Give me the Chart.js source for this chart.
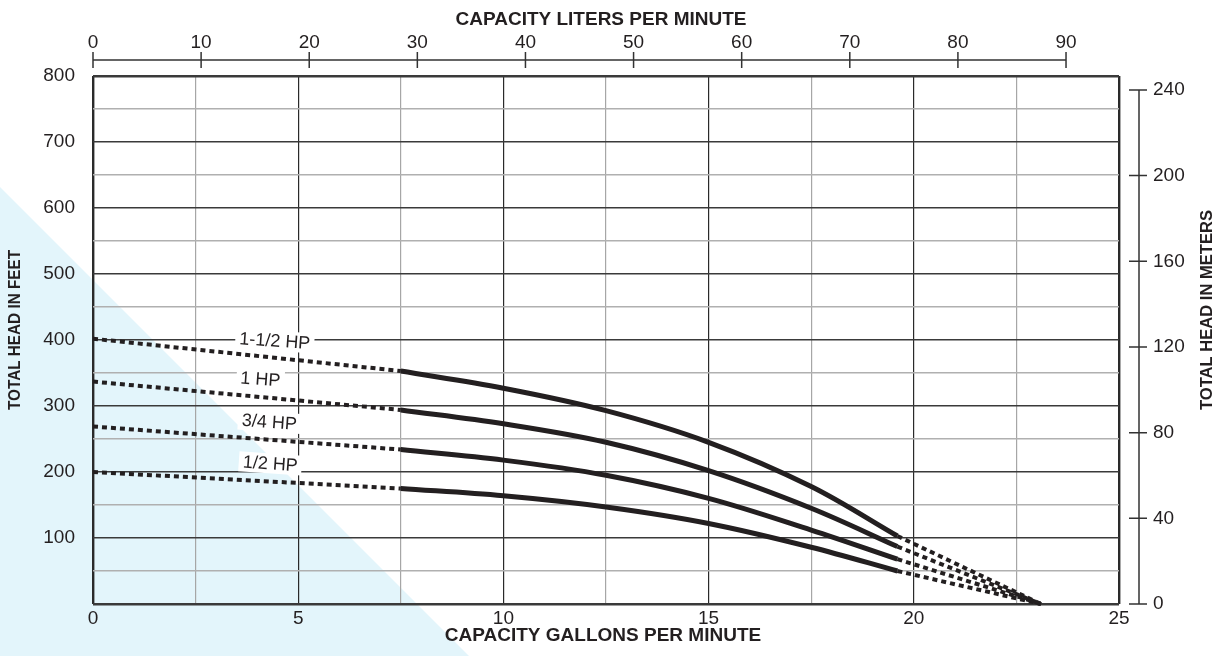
<!DOCTYPE html>
<html>
<head>
<meta charset="utf-8">
<script src="https://cdn.jsdelivr.net/npm/chart.js@4/dist/chart.umd.min.js"></script>
<style>
  body { margin: 0; background: #fff; }
  canvas { display: block; }
</style>
</head>
<body>
<canvas id="pump" width="1225" height="656"></canvas>
<script>
// valeurs
const gpmTicks = [0, 5, 10, 15, 20, 25];
const feetTicks = [100, 200, 300, 400, 500, 600, 700, 800];
const literTicks = [0, 10, 20, 30, 40, 50, 60, 70, 80, 90];
const meterTicks = [0, 40, 80, 120, 160, 200, 240];

const motors = ['1-1/2 HP', '1 HP', '3/4 HP', '1/2 HP'];
const gpmSolid = [7.5, 10, 12.5, 15, 17.5, 19.6];
const headShutoff = [402, 337, 269, 200];
const head150 = [353, 327, 293, 245, 178, 103];
const head100 = [294, 273, 245, 202, 145, 87];
const head075 = [234, 218, 195, 160, 112, 68];
const head050 = [175, 164, 147, 122, 86, 50];
const runOutGpm = 23.1;

const heads = [head150, head100, head075, head050];
const ink = '#231f20';
const FONT = '"Liberation Sans", Arial, Helvetica, sans-serif';

const datasets = [];
heads.forEach((h, i) => {
    datasets.push({
        label: motors[i],
        data: gpmSolid.map((x, j) => ({ x: x, y: h[j] })),
        borderColor: ink,
        borderWidth: 5,
        tension: 0.35,
        pointRadius: 0,
        clip: false
    });
    datasets.push({
        label: motors[i] + ' (extrapolé)',
        data: [
            { x: 0, y: headShutoff[i] },
            { x: gpmSolid[0], y: h[0] },
            { x: 13, y: null },
            { x: gpmSolid[gpmSolid.length - 1], y: h[h.length - 1] },
            { x: runOutGpm, y: 0 }
        ],
        borderColor: ink,
        borderWidth: 4,
        borderDash: [5, 4],
        tension: 0,
        spanGaps: false,
        pointRadius: 0,
        clip: false
    });
});

// fond bleu, axes secondaires, titres, étiquettes des moteurs
const decor = {
    id: 'decor',
    beforeDraw(chart) {
        const c = chart.ctx;
        c.save();
        c.fillStyle = '#e3f5fb';
        c.beginPath();
        c.moveTo(0, 187);
        c.lineTo(469, 656);
        c.lineTo(0, 656);
        c.closePath();
        c.fill();
        c.restore();
    },
    beforeDatasetsDraw(chart) {
        const c = chart.ctx;
        const sx = chart.scales.x, sy = chart.scales.y;
        const spots = [[4.43, 399], [4.08, 341], [4.3, 276], [4.32, 213]];
        c.save();
        c.font = '18px ' + FONT;
        c.textAlign = 'center';
        c.textBaseline = 'middle';
        motors.forEach((m, i) => {
            const px = sx.getPixelForValue(spots[i][0]);
            const py = sy.getPixelForValue(spots[i][1]);
            const w = c.measureText(m).width + 8;
            c.save();
            c.translate(px, py);
            c.rotate(4 * Math.PI / 180);
            c.fillStyle = '#fff';
            c.fillRect(-w / 2, -10, w, 20);
            c.fillStyle = ink;
            c.fillText(m, 0, 1);
            c.restore();
        });
        c.restore();
    },
    afterDraw(chart) {
        const c = chart.ctx;
        const xl = chart.scales.xL, ym = chart.scales.yM;
        c.save();
        c.strokeStyle = '#333';
        c.lineWidth = 1.5;
        // axe litres en haut
        const x0 = xl.getPixelForValue(0), x90 = xl.getPixelForValue(90);
        c.beginPath();
        c.moveTo(x0, 60); c.lineTo(x90, 60);
        literTicks.forEach(v => {
            const p = xl.getPixelForValue(v);
            c.moveTo(p, 52); c.lineTo(p, 68);
        });
        c.stroke();
        // axe mètres à droite
        const ax = 1139;
        c.beginPath();
        c.moveTo(ax, ym.getPixelForValue(0)); c.lineTo(ax, ym.getPixelForValue(240));
        meterTicks.forEach(v => {
            const p = ym.getPixelForValue(v);
            c.moveTo(ax - 10, p); c.lineTo(ax + 8, p);
        });
        c.stroke();

        c.fillStyle = ink;
        c.font = 'bold 19px ' + FONT;
        c.textAlign = 'center';
        c.textBaseline = 'middle';
        c.fillText('CAPACITY LITERS PER MINUTE', 601, 20);
        c.fillText('CAPACITY GALLONS PER MINUTE', 603, 636);

        // titres verticaux, ajustés à la longueur mesurée
        c.font = 'bold 17px ' + FONT;
        c.textAlign = 'left';
        [[15, 'TOTAL HEAD IN FEET', 160], [1207, 'TOTAL HEAD IN METERS', 200]].forEach(t => {
            const k = t[2] / c.measureText(t[1]).width;
            c.save();
            c.translate(t[0], 410);
            c.rotate(-Math.PI / 2);
            c.scale(k, 1);
            c.fillText(t[1], 0, 0);
            c.restore();
        });
        c.restore();
    }
};

const edge = (v, a, b) => v === a || v === b;

new Chart(document.getElementById('pump'), {
    type: 'line',
    data: { datasets: datasets },
    options: {
        responsive: false,
        animation: false,
        layout: { padding: 0 },
        plugins: { legend: { display: false }, tooltip: { enabled: false } },
        scales: {
            x: {
                type: 'linear', position: 'bottom', min: 0, max: 25,
                afterFit: s => { s.height = 52; },
                border: { display: false },
                grid: {
                    drawTicks: false,
                    color: ctx => (ctx.tick && ctx.tick.value % 5 === 0) ? '#2a2a2a' : '#a6a6a6',
                    lineWidth: ctx => (ctx.tick && edge(ctx.tick.value, 0, 25)) ? 2.4 : 1.2
                },
                ticks: {
                    stepSize: 2.5, autoSkip: false, maxRotation: 0, padding: 3,
                    color: ink, font: { family: FONT, size: 19 },
                    callback: v => gpmTicks.includes(v) ? String(v) : ''
                }
            },
            xL: {
                type: 'linear', position: 'top', min: 0, max: 94.9,
                afterFit: s => { s.height = 76; },
                border: { display: false },
                grid: { display: false, drawTicks: false },
                ticks: {
                    stepSize: 10, includeBounds: false, autoSkip: false, maxRotation: 0, padding: 22,
                    color: ink, font: { family: FONT, size: 19 },
                    callback: v => literTicks.includes(v) ? String(v) : ''
                }
            },
            y: {
                type: 'linear', position: 'left', min: 0, max: 800,
                afterFit: s => { s.width = 93; },
                border: { display: false },
                grid: {
                    drawTicks: false,
                    color: ctx => (ctx.tick && ctx.tick.value % 100 === 0) ? '#3a3a3a' : '#b0b0b0',
                    lineWidth: ctx => (ctx.tick && edge(ctx.tick.value, 0, 800)) ? 2.4 : 1.4
                },
                ticks: {
                    stepSize: 50, autoSkip: false, padding: 18,
                    color: ink, font: { family: FONT, size: 19 },
                    callback: v => feetTicks.includes(v) ? String(v) : ''
                }
            },
            yM: {
                type: 'linear', position: 'right', min: 0, max: 246.5,
                afterFit: s => { s.width = 106; },
                border: { display: false },
                grid: { display: false, drawTicks: false },
                ticks: {
                    stepSize: 40, includeBounds: false, autoSkip: false, padding: 34,
                    color: ink, font: { family: FONT, size: 19 },
                    callback: v => meterTicks.includes(v) ? String(v) : ''
                }
            }
        }
    },
    plugins: [decor]
});
</script>
</body>
</html>
